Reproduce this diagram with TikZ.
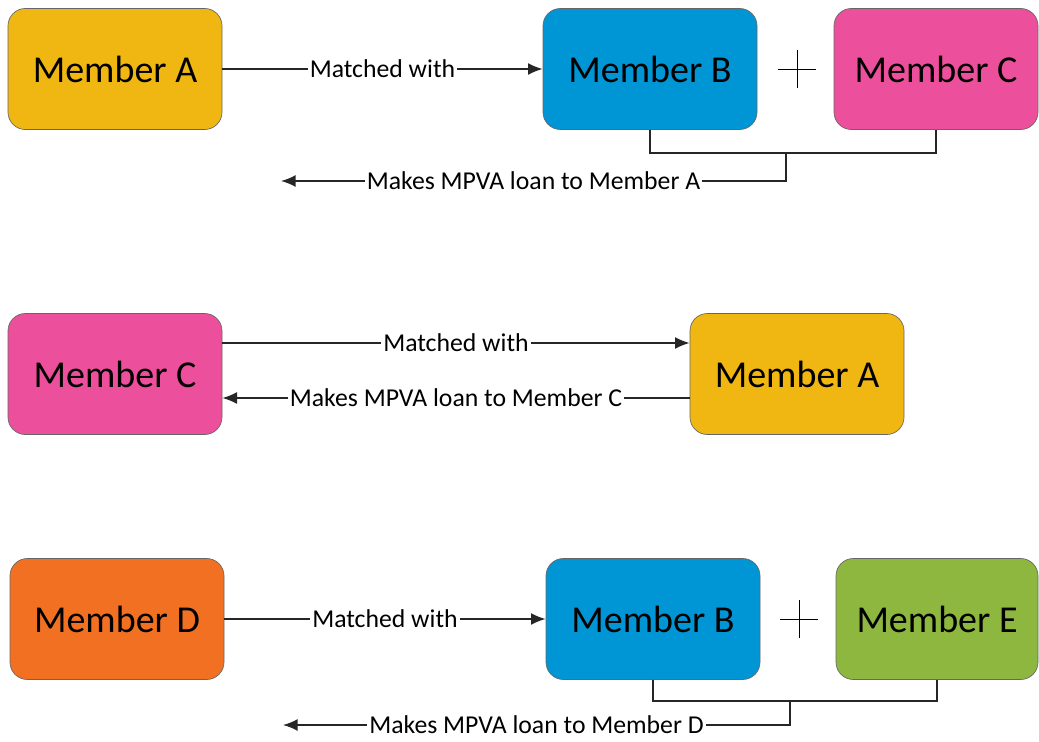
\documentclass[tikz,border=0pt]{standalone}
\usepackage{fontspec}
\setmainfont{Carlito}
\usetikzlibrary{arrows.meta}

\definecolor{mgold}{RGB}{240,183,18}
\definecolor{mblue}{RGB}{0,149,213}
\definecolor{mpink}{RGB}{236,79,155}
\definecolor{morange}{RGB}{242,112,34}
\definecolor{mgreen}{RGB}{141,183,63}

\tikzset{
  member/.style={draw=black!60, line width=0.5pt, rounded corners=13pt,
    minimum width=160.5pt, minimum height=90.75pt, inner sep=0pt,
    font=\fontsize{28.5}{30}\selectfont},
  link/.style={draw=black!85, line width=1.2pt, -{Latex[length=11pt,width=9pt]}},
  wire/.style={draw=black!85, line width=1.2pt},
  lbl/.style={fill=white, inner xsep=1.5pt, inner ysep=0.5pt, text=black, font=\fontsize{19.3}{21}\selectfont},
  plus/.style={draw=black, line width=0.6pt}
}

\begin{document}
\begin{tikzpicture}[x=0.75pt,y=0.75pt,yscale=-1,xscale=1]
\useasboundingbox (0,0) rectangle (1039,742);

% first match
\node[member, fill=mgold] (a1) at (115,69) {Member A};
\node[member, fill=mblue] (b1) at (650,69) {Member B};
\node[member, fill=mpink, minimum width=153pt] (c1) at (936,69) {Member C};
\draw[plus] (778,69) -- (816,69) (797,50) -- (797,88);
\draw[link] (a1) -- node[lbl] {Matched with} (b1);
\coordinate (j1) at (786,153);
\coordinate (t1) at (281,181);
\draw[wire] (b1.south) |- (j1) -| (c1.south);
\draw[link] (j1) |- node[lbl, pos=0.75] {Makes MPVA loan to Member A} (t1);

% second match
\node[member, fill=mpink] (c2) at (115,374) {Member C};
\node[member, fill=mgold] (a2) at (797,374) {Member A};
\draw[link] (c2.east |- 0,343) -- node[lbl] {Matched with} (a2.west |- 0,343);
\draw[link] (a2.west |- 0,398) -- node[lbl] {Makes MPVA loan to Member C} (c2.east |- 0,398);

% third match
\node[member, fill=morange] (d3) at (117,619) {Member D};
\node[member, fill=mblue] (b3) at (653,619) {Member B};
\node[member, fill=mgreen, minimum width=151.5pt] (e3) at (937,619) {Member E};
\draw[plus] (780,619) -- (818,619) (799,600) -- (799,638);
\draw[link] (d3) -- node[lbl] {Matched with} (b3);
\coordinate (j3) at (790,701);
\coordinate (t3) at (283,725);
\draw[wire] (b3.south) |- (j3) -| (e3.south);
\draw[link] (j3) |- node[lbl, pos=0.75] {Makes MPVA loan to Member D} (t3);

\end{tikzpicture}
\end{document}
